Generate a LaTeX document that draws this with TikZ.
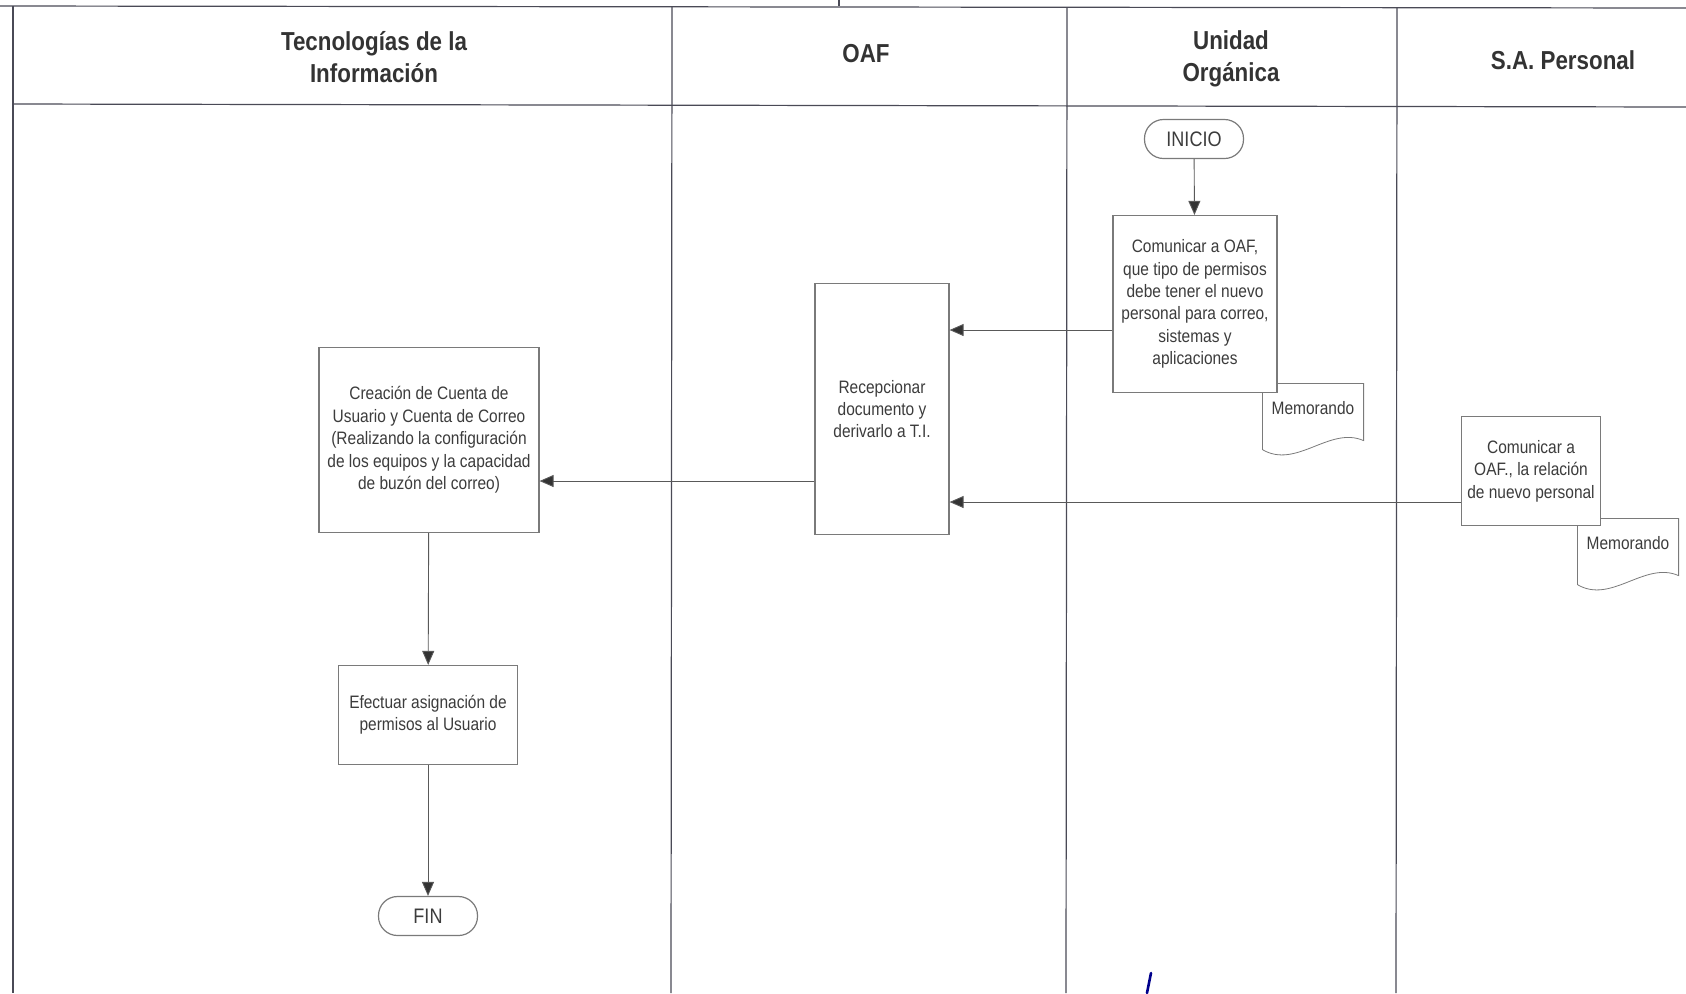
\documentclass[tikz,border=0pt]{standalone}
\usepackage{fontspec}
\setmainfont{Liberation Sans}[FakeStretch=0.86]
\usepackage{tikz}
\usetikzlibrary{arrows.meta}
\definecolor{boxgray}{HTML}{7A7A7A}
\definecolor{lanegray}{HTML}{4A4A56}
\definecolor{txtgray}{HTML}{3C3C3C}
\tikzset{
    procnode/.style={draw=boxgray,fill=white,align=center,inner sep=0pt,text=txtgray,font=\fontsize{9}{11.2}\selectfont},
    termnode/.style={procnode,rounded corners=9.5pt,minimum width=49.5pt,minimum height=19.5pt,font=\fontsize{10.5}{12}\selectfont},
    docnode/.style={align=center,inner sep=0pt,text=txtgray,font=\fontsize{9}{11.2}\selectfont,minimum width=50pt,minimum height=32.5pt,text height=7pt,text depth=9.4pt},
    lanehead/.style={align=center,font=\bfseries\fontsize{13}{16}\selectfont,text=black!80},
    laneline/.style={draw=lanegray,line width=0.6pt},
    flow/.style={->,draw=black!65,line width=0.45pt}
}

\begin{document}
\begin{tikzpicture}[x=0.5pt,y=-0.5pt,>={Triangle[length=7pt,width=6pt,fill=black!80]},semithick]
\useasboundingbox (0,0) rectangle (1686,993);

% lanes
\draw[laneline] (0,6) -- (1686,8);
\draw[laneline] (839,0) -- (839,6);
\draw[laneline] (13,6) -- (13,993);
\draw[laneline] (672,6) -- (671,993);
\draw[laneline] (1067,7) -- (1066,993);
\draw[laneline] (1397,7) -- (1396,993);
\draw[laneline] (13,104) -- (1686,107);

\node[lanehead] (ti)   at (374,57)  {Tecnologías de la\\Información};
\node[lanehead] (oaf)  at (866,54)  {OAF};
\node[lanehead] (uo)   at (1231,59) {Unidad\\Orgánica};
\node[lanehead] (sap)  at (1563,60) {S.A. Personal};

% documentos
\node[docnode] (memoA) at (1313,416.5) {Memorando};
\node[docnode] (memoB) at (1628,551.5) {Memorando};
\draw[boxgray,thin] (memoA.south west) -- (memoA.north west) -- (memoA.north east) -- ([yshift=4.5pt]memoA.south east)
    .. controls +(-17pt,7.5pt) and +(17pt,-10pt) .. (memoA.south west);
\draw[boxgray,thin] (memoB.south west) -- (memoB.north west) -- (memoB.north east) -- ([yshift=4.5pt]memoB.south east)
    .. controls +(-17pt,7.5pt) and +(17pt,-10pt) .. (memoB.south west);

% procesos
\node[termnode] (inicio) at (1194,139) {INICIO};
\node[procnode,minimum width=82pt,minimum height=88.5pt] (comOAF) at (1195,304)
    {Comunicar a OAF,\\que tipo de permisos\\debe tener el nuevo\\personal para correo,\\sistemas y\\aplicaciones};
\node[procnode,minimum width=69.5pt,minimum height=54.5pt] (comRel) at (1531,471)
    {Comunicar a\\OAF., la relación\\de nuevo personal};
\node[procnode,minimum width=67pt,minimum height=125.5pt] (recep) at (882,409)
    {Recepcionar\\documento y\\derivarlo a T.I.};
\node[procnode,minimum width=110pt,minimum height=92.5pt] (creacion) at (429,440)
    {Creación de Cuenta de\\Usuario y Cuenta de Correo\\(Realizando la configuración\\de los equipos y la capacidad\\de buzón del correo)};
\node[procnode,minimum width=89.5pt,minimum height=49.5pt] (efectuar) at (428,715)
    {Efectuar asignación de\\permisos al Usuario};
\node[termnode] (fin) at (428,916) {FIN};

\coordinate (a1) at ([yshift=-13pt]comOAF.west);
\coordinate (a2) at ([yshift=-15.5pt]comRel.west);
\coordinate (a3) at ([yshift=-36pt]recep.west);

\path
(inicio)   edge[flow] (comOAF)
(a1)       edge[flow] (a1 -| recep.east)
(a2)       edge[flow] (a2 -| recep.east)
(a3)       edge[flow] (a3 -| creacion.east)
(creacion) edge[flow] (efectuar)
(efectuar) edge[flow] (fin);

% firma
\draw[blue!55!black,line width=1.3pt,line cap=round] (1151,973) -- (1147,993);

\end{tikzpicture}
\end{document}
